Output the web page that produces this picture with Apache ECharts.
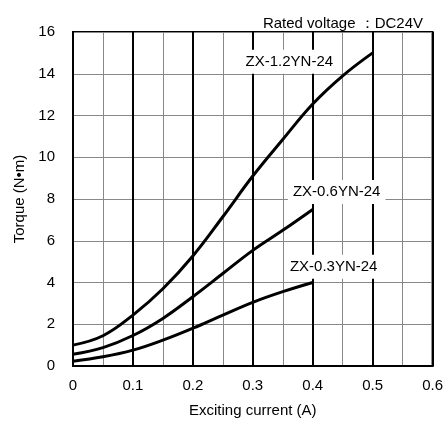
<!DOCTYPE html>
<html><head><meta charset="utf-8">
<script src="https://cdn.jsdelivr.net/npm/echarts@6/dist/echarts.min.js"></script>
<style>html,body{margin:0;padding:0;background:#fff}#c{width:446px;height:423px}</style>
</head><body><div id="c"></div>
<script>
const current = [0, 0.05, 0.1, 0.15, 0.2, 0.25, 0.3, 0.35, 0.4, 0.45, 0.5];
const torque12 = [1.0, 1.45, 2.44, 3.7, 5.27, 7.15, 9.1, 10.85, 12.55, 13.9, 15.0];
const torque06 = [0.56, 0.88, 1.46, 2.28, 3.32, 4.43, 5.54, 6.5, 7.5];
const torque03 = [0.23, 0.44, 0.76, 1.24, 1.81, 2.44, 3.05, 3.56, 4.0];
const seriesNames = ['ZX-1.2YN-24', 'ZX-0.6YN-24', 'ZX-0.3YN-24'];
const labelAnchors = [[0.361, 14.57], [0.44, 8.33], [0.435, 4.76]];
const xTicks = [0, 0.1, 0.2, 0.3, 0.4, 0.5, 0.6];
const yTicks = [0, 2, 4, 6, 8, 10, 12, 14, 16];
const noteText = 'Rated voltage ：DC24V';

const font = 'Liberation Sans, Arial, sans-serif';
const fs = 15;
const allTorque = [torque12, torque06, torque03];
const chart = echarts.init(document.getElementById('c'), null, {renderer: 'canvas'});
chart.setOption({
  animation: false,
  backgroundColor: '#fff',
  title: {text: noteText, right: 18, top: 11, textStyle: {fontFamily: font, fontSize: fs, fontWeight: 'normal', color: '#000'}},
  grid: {left: 73, right: 9, top: 32, bottom: 55, show: true, borderColor: '#000', borderWidth: 2},
  xAxis: {
    type: 'value', min: 0, max: 0.6, interval: 0.1,
    name: 'Exciting current (A)', nameLocation: 'middle', nameGap: 37,
    nameTextStyle: {fontFamily: font, fontSize: fs, color: '#000'},
    axisLine: {lineStyle: {color: '#000', width: 2}},
    axisTick: {show: false},
    axisLabel: {margin: 12, fontFamily: font, fontSize: fs, color: '#000',
      formatter: v => { const t = xTicks.find(x => Math.abs(x - v) < 1e-9); return t === undefined ? '' : String(t); }},
    splitLine: {show: true, lineStyle: {color: '#000', width: 2}},
    minorTick: {show: true, splitNumber: 2, length: 0, lineStyle: {width: 0}},
    minorSplitLine: {show: true, lineStyle: {color: '#888', width: 1}}
  },
  yAxis: {
    type: 'value', min: 0, max: 16, interval: 2,
    name: 'Torque (N•m)', nameLocation: 'middle', nameGap: 46,
    nameTextStyle: {fontFamily: font, fontSize: fs, color: '#000'},
    axisLine: {lineStyle: {color: '#000', width: 2}},
    axisTick: {show: false},
    axisLabel: {margin: 18, fontFamily: font, fontSize: fs, color: '#000',
      formatter: v => { const t = yTicks.find(y => Math.abs(y - v) < 1e-9); return t === undefined ? '' : String(t); }},
    splitLine: {show: true, lineStyle: {color: '#888', width: 1}}
  },
  series: allTorque.map((arr, i) => ({
    type: 'line', name: seriesNames[i], smooth: 0.4, symbol: 'none', z: 3,
    lineStyle: {color: '#000', width: 3},
    data: arr.map((v, j) => [current[j], v]),
    markPoint: {
      symbol: 'rect', symbolSize: 0, z: 10,
      data: [{coord: labelAnchors[i], value: seriesNames[i]}],
      label: {show: true, position: 'inside', formatter: seriesNames[i], color: '#000',
        fontFamily: font, fontSize: fs, backgroundColor: '#fff', padding: [5, 5, 4, 5]}
    }
  }))
});
</script></body></html>
